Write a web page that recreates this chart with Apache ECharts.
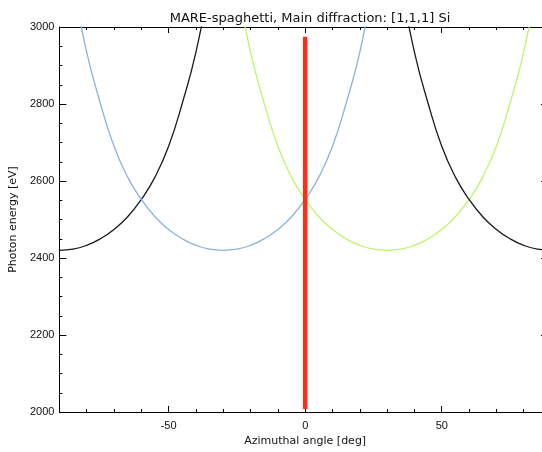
<!DOCTYPE html>
<html>
<head>
<meta charset="utf-8">
<script src="https://cdn.jsdelivr.net/npm/echarts@6/dist/echarts.min.js"></script>
<style>
  html, body { margin: 0; padding: 0; background: #fff; overflow: hidden; }
  #chart { width: 560px; height: 452px; }
</style>
</head>
<body>
<div id="chart"></div>
<script>
// azimuthal angle samples (deg)
var angles = [-90,-85,-80,-75,-70,-65,-60,-55,-50,-45,-40,-35,-30,-25,-20,-15,-10,-5,0,
              5,10,15,20,25,30,35,40,45,50,55,60,65,70,75,80,85,90];

// photon energy (eV), null = not drawn
var blackLeft  = [2420,2423,2433,2450,2474,2507,2552,2610,2690,2802,2935,3115,null,null,null,null,null,null,null,
                  null,null,null,null,null,null,null,null,null,null,null,null,null,null,null,null,null,null];
var blueCurve  = [null,3115,2935,2802,2690,2610,2552,2507,2474,2450,2433,2423,2420,2423,2433,2450,2474,2507,2552,
                  2610,2690,2802,2935,3115,null,null,null,null,null,null,null,null,null,null,null,null,null];
var greenCurve = [null,null,null,null,null,null,null,null,null,null,null,null,null,3115,2935,2802,2690,2610,2552,
                  2507,2474,2450,2433,2423,2420,2423,2433,2450,2474,2507,2552,2610,2690,2802,2935,3115,null];
var blackRight = [null,null,null,null,null,null,null,null,null,null,null,null,null,null,null,null,null,null,null,
                  null,null,null,null,null,null,3115,2935,2802,2690,2610,2552,2507,2474,2450,2433,2423,2420];

// main diffraction marker at 0 deg
var markerAngle = [0, 0];
var markerEnergy = [2008, 2975];

var xMajor = [-50, 0, 50];

function pairs(xs, ys) {
  var out = [];
  for (var i = 0; i < xs.length; i++) {
    if (ys[i] !== null) out.push([xs[i], ys[i]]);
  }
  return out;
}

var chart = echarts.init(document.getElementById('chart'));
var font = 'Liberation Sans';
var nameFont = 'DejaVu Sans';
var axisLine = { show: true, onZero: false, lineStyle: { color: '#000', width: 1 } };
var noLine = { show: false, onZero: false };

function curve(name, data, color) {
  return {
    name: name,
    type: 'line',
    data: pairs(angles, data),
    smooth: 0.5,
    showSymbol: false,
    symbol: 'none',
    lineStyle: { color: color, width: 1.3 },
    z: 2
  };
}

var option = {
  animation: false,
  title: {
    text: 'MARE-spaghetti, Main diffraction: [1,1,1] Si',
    left: 305,
    textAlign: 'center',
    top: 7,
    textStyle: { fontFamily: nameFont, fontSize: 13, fontWeight: 'normal', color: '#111' }
  },
  grid: { left: 59, right: 9, top: 27, bottom: 36 },
  xAxis: [
    {
      type: 'value', min: -90, max: 90, position: 'bottom',
      axisLine: axisLine,
      axisTick: { inside: true, length: 6, customValues: xMajor, lineStyle: { color: '#000' } },
      axisLabel: { customValues: xMajor, margin: 8, fontFamily: font, fontSize: 11, color: '#111' },
      splitLine: { show: false },
      name: 'Azimuthal angle [deg]', nameLocation: 'middle', nameGap: 24,
      nameTextStyle: { fontFamily: nameFont, fontSize: 11, color: '#111' }
    },
    {
      type: 'value', min: -90, max: 90, interval: 10, position: 'bottom',
      axisLine: noLine,
      axisTick: { inside: true, length: 3, lineStyle: { color: '#000' } },
      axisLabel: { show: false }, splitLine: { show: false }
    },
    {
      type: 'value', min: -90, max: 90, position: 'top',
      axisLine: axisLine,
      axisTick: { inside: true, length: 6, customValues: xMajor, lineStyle: { color: '#000' } },
      axisLabel: { show: false }, splitLine: { show: false }
    },
    {
      type: 'value', min: -90, max: 90, interval: 10, position: 'top',
      axisLine: noLine,
      axisTick: { inside: true, length: 3, lineStyle: { color: '#000' } },
      axisLabel: { show: false }, splitLine: { show: false }
    }
  ],
  yAxis: [
    {
      type: 'value', min: 2000, max: 3000, interval: 200, position: 'left',
      axisLine: axisLine,
      axisTick: { inside: true, length: 7, lineStyle: { color: '#000' } },
      minorTick: { show: true, splitNumber: 4, length: 3, lineStyle: { color: '#000' } },
      axisLabel: { margin: 5, fontFamily: font, fontSize: 11, color: '#111', formatter: function (v) { return String(v); } },
      splitLine: { show: false },
      name: 'Photon energy [eV]', nameLocation: 'middle', nameGap: 30,
      nameTextStyle: { fontFamily: nameFont, fontSize: 11, color: '#111' }
    },
    {
      type: 'value', min: 2000, max: 3000, interval: 200, position: 'right',
      axisLine: axisLine,
      axisTick: { inside: true, length: 10, lineStyle: { color: '#000' } },
      minorTick: { show: true, splitNumber: 4, length: 4, lineStyle: { color: '#000' } },
      axisLabel: { show: false }, splitLine: { show: false }
    }
  ],
  series: [
    curve('black-1', blackLeft, '#1a1a1a'),
    curve('blue', blueCurve, '#8ab2da'),
    curve('green', greenCurve, '#bdf46a'),
    curve('black-2', blackRight, '#1a1a1a'),
    {
      name: 'main',
      type: 'line',
      data: pairs(markerAngle, markerEnergy),
      symbol: 'none',
      lineStyle: { color: '#ff2e12', width: 4.5, cap: 'butt' },
      z: 5
    }
  ]
};
chart.setOption(option);
</script>
</body>
</html>
